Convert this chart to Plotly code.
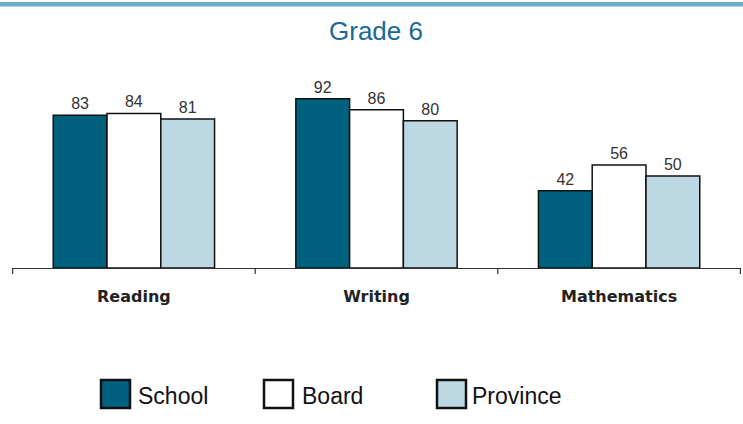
import plotly.graph_objects as go

categories = ["Reading", "Writing", "Mathematics"]
series_names = ["School", "Board", "Province"]
school = [83, 92, 42]
board = [84, 86, 56]
province = [81, 80, 50]
series_values = [school, board, province]
colors = ["#00617f", "#ffffff", "#bcd9e3"]

W, H = 743, 424
ml, mr, mt, mb = 12, 2, 84, 156

fig = go.Figure()
for name, vals, col in zip(series_names, series_values, colors):
    fig.add_trace(go.Bar(
        x=categories, y=vals, name=name,
        marker=dict(color=col, line=dict(color="#111111", width=1.5)),
        text=[str(v) for v in vals], textposition="outside",
        textfont=dict(family="Liberation Sans, Arial", size=16, color="#333333"),
        cliponaxis=False, showlegend=False,
    ))

fig.update_layout(
    width=W, height=H,
    margin=dict(l=ml, r=mr, t=mt, b=mb),
    paper_bgcolor="white", plot_bgcolor="white",
    barmode="group", bargap=0.335, bargroupgap=0,
    xaxis=dict(showgrid=False, showline=True, linecolor="#333333", linewidth=1.2,
               ticks="", tickfont=dict(family="DejaVu Sans", size=16, color="#222222"),
               ticklabelstandoff=14),
    yaxis=dict(range=[0, 100], visible=False, showgrid=False),
    font=dict(family="Liberation Sans, Arial"),
)

fig.update_xaxes(tickvals=categories, ticktext=[f"<b>{c}</b>" for c in categories])

for i in range(len(categories) + 1):
    fig.add_shape(type="line", xref="x", yref="paper",
                  x0=i - 0.5, x1=i - 0.5, y0=0, y1=-6 / (H - mt - mb),
                  line=dict(color="#333333", width=1.2))

pw, ph = W - ml - mr, H - mt - mb

fig.add_shape(type="rect", xref="paper", yref="paper",
              x0=-ml / pw, x1=1 + mr / pw,
              y0=1 + (mt - 6.5) / ph, y1=1 + (mt - 2) / ph,
              line=dict(width=0), fillcolor="#6aadc6")

fig.add_annotation(text="Grade 6", xref="paper", yref="paper",
                   x=(376 - ml) / pw, y=1 + (mt - 31) / ph,
                   showarrow=False, xanchor="center", yanchor="middle",
                   font=dict(family="Liberation Sans, Arial", size=26, color="#17699b"))

leg_x = [101, 264, 437]
leg_text_x = [139, 303, 473]
leg_y = 394
for name, col, lx, tx in zip(series_names, colors, leg_x, leg_text_x):
    fig.add_shape(type="rect", xref="paper", yref="paper",
                  x0=(lx - ml) / pw, x1=(lx + 29 - ml) / pw,
                  y0=(H - mb - (leg_y + 14)) / ph, y1=(H - mb - (leg_y - 14)) / ph,
                  line=dict(color="#111111", width=2.5), fillcolor=col)
    fig.add_annotation(text=name, xref="paper", yref="paper",
                       x=(tx - ml) / pw, y=(H - mb - (leg_y + 2)) / ph,
                       showarrow=False, xanchor="left", yanchor="middle",
                       xshift=-3,
                       font=dict(family="Liberation Sans, Arial", size=23, color="#111111"))

fig.write_html("out.html", config={"displayModeBar": False},
               post_script="document.body.style.margin='0';")
